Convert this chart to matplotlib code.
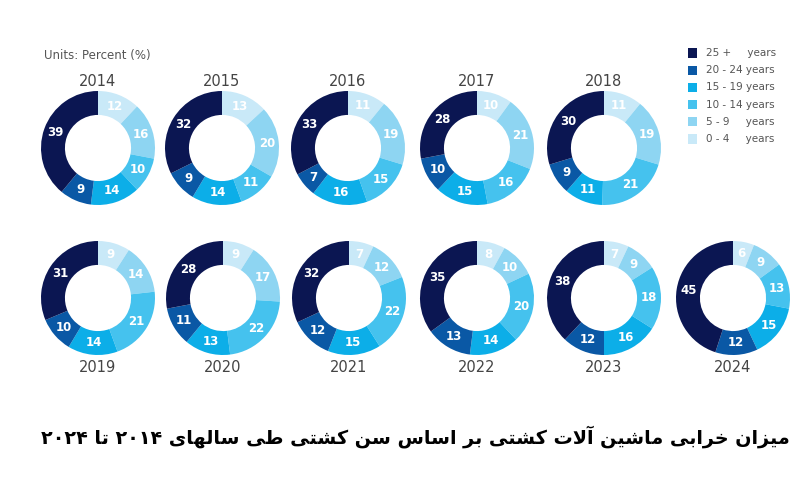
import matplotlib
matplotlib.use("Agg")
import matplotlib.pyplot as plt
from matplotlib.patches import Rectangle
import numpy as np

years = ["2014","2015","2016","2017","2018","2019","2020","2021","2022","2023","2024"]
# order clockwise from top: 0-4, 5-9, 10-14, 15-19, 20-24, 25+
v_0_4   = [12,13,11,10,11, 9, 9, 7, 8, 7, 6]
v_5_9   = [16,20,19,21,19,14,17,12,10, 9, 9]
v_10_14 = [10,11,15,16,21,21,22,22,20,18,13]
v_15_19 = [14,14,16,15,11,14,13,15,14,16,15]
v_20_24 = [ 9, 9, 7,10, 9,10,11,12,13,12,12]
v_25    = [39,32,33,28,30,31,28,32,35,38,45]
legend_labels = ["25 +     years","20 - 24 years","15 - 19 years","10 - 14 years","5 - 9     years","0 - 4     years"]
colors = ["#c9e9f8","#8ed5f2","#45c2ee","#0caee8","#0a58a5","#0b1652"]  # 0-4 ... 25+
title_fa = "میزان خرابی ماشین آلات کشتی بر اساس سن کشتی طی سالهای ۲۰۱۴ تا ۲۰۲۴"

# --- minimal Persian shaping ---
FORMS = {
 'ا':(0xFE8D,0xFE8E,None,None),'آ':(0xFE81,0xFE82,None,None),
 'ب':(0xFE8F,0xFE90,0xFE91,0xFE92),'ت':(0xFE95,0xFE96,0xFE97,0xFE98),
 'خ':(0xFEA5,0xFEA6,0xFEA7,0xFEA8),'ر':(0xFEAD,0xFEAE,None,None),
 'ز':(0xFEAF,0xFEB0,None,None),'س':(0xFEB1,0xFEB2,0xFEB3,0xFEB4),
 'ش':(0xFEB5,0xFEB6,0xFEB7,0xFEB8),'ط':(0xFEC1,0xFEC2,0xFEC3,0xFEC4),
 'ک':(0xFB8E,0xFB8F,0xFB90,0xFB91),'ل':(0xFEDD,0xFEDE,0xFEDF,0xFEE0),
 'م':(0xFEE1,0xFEE2,0xFEE3,0xFEE4),'ن':(0xFEE5,0xFEE6,0xFEE7,0xFEE8),
 'ه':(0xFEE9,0xFEEA,0xFEEB,0xFEEC),'ی':(0xFBFC,0xFBFD,0xFBFE,0xFBFF),
}
def shape(s):
    chars = list(s)
    out = []
    i = 0
    while i < len(chars):
        if chars[i] == 'ل' and i+1 < len(chars) and chars[i+1] in 'اآ':
            out.append('LA'); i += 2
        else:
            out.append(chars[i]); i += 1
    def joins_next(c):
        return c in FORMS and FORMS[c][2] is not None
    def is_letter(c):
        return c in FORMS or c == 'LA'
    res = []
    for i, c in enumerate(out):
        prev = out[i-1] if i > 0 else None
        nxt = out[i+1] if i+1 < len(out) else None
        jp = prev is not None and joins_next(prev)
        if c == 'LA':
            res.append(chr(0xFEFC if jp else 0xFEFB)); continue
        if c not in FORMS:
            res.append(c); continue
        f = FORMS[c]
        jn = nxt is not None and is_letter(nxt) and f[2] is not None
        if jp and jn: res.append(chr(f[3]))
        elif jp: res.append(chr(f[1]))
        elif jn: res.append(chr(f[2]))
        else: res.append(chr(f[0]))
    rev = res[::-1]
    final = []; run = []
    for c in rev:
        if c in '۰۱۲۳۴۵۶۷۸۹':
            run.append(c)
        else:
            if run: final.extend(run[::-1]); run = []
            final.append(c)
    if run: final.extend(run[::-1])
    return ''.join(final)

W, H = 810, 501
fig = plt.figure(figsize=(W/100, H/100), dpi=100)
fig.patch.set_facecolor("white")

centers = [(98,148),(222,148),(348,148),(477,148),(604,148),
           (98,298),(223,298),(349,298),(477,298),(604,298),(733,298)]
R = 57
for k, yr in enumerate(years):
    cx, cy = centers[k]
    ax = fig.add_axes([(cx-R)/W, 1-(cy+R)/H, 2*R/W, 2*R/H])
    vals = [v_0_4[k], v_5_9[k], v_10_14[k], v_15_19[k], v_20_24[k], v_25[k]]
    ax.pie(vals, colors=colors, startangle=90, counterclock=False,
           wedgeprops=dict(width=0.42, edgecolor="none"))
    tot = sum(vals); ang = 90.0
    for v in vals:
        mid = np.deg2rad(ang - v/tot*360/2)
        ax.text(0.79*np.cos(mid), 0.79*np.sin(mid), str(v), ha="center", va="center",
                color="white", fontsize=8.5, fontweight="bold")
        ang -= v/tot*360
    ax.set_xlim(-1,1); ax.set_ylim(-1,1); ax.set_aspect("equal")
    ty = cy - 67 if k < 5 else cy + 70
    fig.text(cx/W, 1-ty/H, yr, ha="center", va="center", fontsize=10.5, color="#444444")

fig.text(44/W, 1-55/H, "Units: Percent (%)", ha="left", va="center", fontsize=8.5, color="#555555")

leg_colors = colors[::-1]
for i, (lab, c) in enumerate(zip(legend_labels, leg_colors)):
    y = 53 + i*17.2
    fig.patches.append(Rectangle(((688)/W, 1-(y+4.5)/H), 9/W, 9/H, transform=fig.transFigure,
                                 facecolor=c, edgecolor="none"))
    fig.text(706/W, 1-y/H, lab, ha="left", va="center", fontsize=7.5, color="#555555")

fig.text(790/W, 1-437/H, shape(title_fa), ha="right", va="center", fontsize=13.8,
         fontweight="bold", family="DejaVu Sans", color="black")

fig.savefig("out.png", dpi=100)
